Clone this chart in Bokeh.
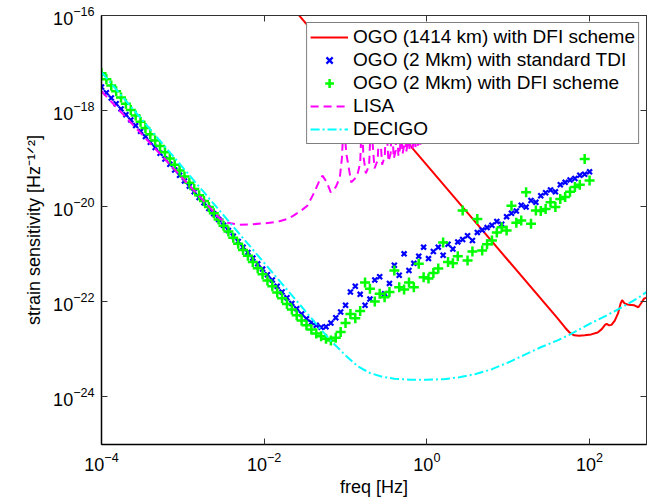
from bokeh.plotting import figure
from bokeh.models import LogAxis, FixedTicker, Legend, LegendItem, Range1d, LogTickFormatter
from bokeh.embed import file_html
from bokeh.resources import INLINE

FONT = "Liberation Sans"

# ---------------- data (log10 values) ----------------
# OGO (1414 km) with DFI scheme
ogo1414_logf = [-1.70, -1.00, 0.00, 1.00, 1.60, 1.70, 1.76, 1.81, 1.87, 1.94, 2.02, 2.10, 2.15,
                2.19, 2.21, 2.24, 2.27, 2.31, 2.35, 2.38, 2.40, 2.43, 2.48, 2.55, 2.60, 2.64,
                2.67, 2.70]
ogo1414_logh = [-15.74, -17.14, -19.14, -21.14, -22.34, -22.55, -22.66, -22.71, -22.72, -22.71,
                -22.69, -22.65, -22.58, -22.49, -22.47, -22.50, -22.49, -22.40, -22.25, -22.05,
                -21.97, -22.04, -22.07, -22.08, -22.12, -22.02, -21.94, -21.92]

# common frequency grid of the 2 Mkm series (log10 Hz)
ogo2_logf = [-4.00, -3.94, -3.88, -3.82, -3.76, -3.70, -3.64, -3.58, -3.52, -3.46,
             -3.40, -3.34, -3.28, -3.22, -3.16, -3.10, -3.04, -2.98, -2.92, -2.86,
             -2.80, -2.74, -2.68, -2.62, -2.56, -2.50, -2.44, -2.38, -2.32, -2.26,
             -2.20, -2.14, -2.08, -2.02, -1.96, -1.90, -1.84, -1.78, -1.72, -1.66,
             -1.60, -1.54, -1.48, -1.42, -1.36, -1.30, -1.24, -1.18, -1.12, -1.06,
             -1.00, -0.94, -0.88, -0.82, -0.76, -0.70, -0.64, -0.58, -0.52, -0.46,
             -0.40, -0.34, -0.28, -0.22, -0.16, -0.10, -0.04, 0.02, 0.08, 0.14,
             0.20, 0.26, 0.32, 0.38, 0.44, 0.50, 0.56, 0.62, 0.68, 0.74,
             0.80, 0.86, 0.92, 0.98, 1.04, 1.10, 1.16, 1.22, 1.28, 1.34,
             1.40, 1.46, 1.52, 1.58, 1.64, 1.70, 1.76, 1.82, 1.88, 1.94,
             2.00]

# OGO (2 Mkm) with standard TDI
ogo2_tdi_logh = [-17.50, -17.62, -17.73, -17.85, -17.96, -18.08, -18.19, -18.31, -18.43, -18.54,
                 -18.66, -18.77, -18.89, -19.01, -19.12, -19.24, -19.35, -19.47, -19.58, -19.70,
                 -19.82, -19.93, -20.05, -20.16, -20.28, -20.40, -20.51, -20.63, -20.74, -20.86,
                 -20.97, -21.09, -21.21, -21.32, -21.44, -21.55, -21.68, -21.80, -21.92, -22.04,
                 -22.15, -22.26, -22.36, -22.44, -22.50, -22.54, -22.53, -22.45, -22.34, -22.22,
                 -22.08, -21.80, -21.68, -21.85, -22.08, -21.95, -21.55, -21.48, -21.84, -21.62,
                 -21.24, -21.45, -21.00, -21.35, -21.20, -21.05, -20.86, -21.10, -20.95, -20.86,
                 -21.03, -20.80, -20.90, -20.75, -20.70, -20.62, -20.72, -20.55, -20.50, -20.45,
                 -20.40, -20.32, -20.38, -20.22, -20.15, -20.10, -19.98, -20.02, -19.88, -19.92,
                 -19.78, -19.72, -19.66, -19.70, -19.55, -19.50, -19.45, -19.42, -19.35, -19.33,
                 -19.28]

# OGO (2 Mkm) with DFI scheme
ogo2_dfi_logh = [-17.21, -17.34, -17.47, -17.59, -17.72, -17.85, -17.98, -18.10, -18.23, -18.36,
                 -18.49, -18.62, -18.74, -18.87, -19.00, -19.13, -19.25, -19.38, -19.51, -19.64,
                 -19.77, -19.89, -20.02, -20.15, -20.28, -20.41, -20.53, -20.66, -20.79, -20.92,
                 -21.04, -21.17, -21.30, -21.43, -21.56, -21.68, -21.81, -21.93, -22.05, -22.17,
                 -22.29, -22.40, -22.50, -22.59, -22.67, -22.73, -22.78, -22.82, -22.76, -22.64,
                 -22.45, -22.26, -22.35, -22.20, -21.60, -21.73, -22.00, -21.84, -21.91, -21.80,
                 -21.35, -21.70, -21.75, -21.60, -21.70, -21.21, -21.49, -21.52, -21.40, -21.31,
                 -20.76, -21.17, -21.20, -21.05, -20.09, -21.14, -20.95, -20.27, -20.93, -20.80,
                 -20.72, -20.55, -20.44, -20.51, -19.99, -20.35, -20.30, -19.71, -20.37, -20.09,
                 -20.10, -20.06, -19.92, -20.02, -19.85, -19.81, -19.70, -19.60, -19.55, -19.01,
                 -19.46]

# LISA
lisa_logf = [-4.00, -3.50, -3.00, -2.70, -2.55, -2.45, -2.30, -2.15, -2.00, -1.84, -1.72,
             -1.64, -1.55, -1.47, -1.39, -1.33, -1.284, -1.23, -1.182, -1.12, -1.07, -1.045,
             -1.022, -0.99, -0.93, -0.86, -0.82, -0.80, -0.78, -0.75, -0.71, -0.688,
             -0.644, -0.604, -0.585, -0.550, -0.517, -0.502, -0.472, -0.445, -0.432,
             -0.407, -0.383, -0.372, -0.350, -0.329, -0.319, -0.299, -0.281, -0.272,
             -0.254, -0.237, -0.229, -0.213, -0.198, -0.190, -0.176, -0.162, -0.155,
             -0.141, -0.128, -0.122, -0.110, -0.098, -0.092, -0.080, -0.063, -0.052,
             -0.036, -0.026, -0.011, 0.000]
lisa_logh = [-17.59, -18.50, -19.42, -19.97, -20.25, -20.35, -20.39, -20.38, -20.36, -20.33, -20.27,
             -20.20, -20.10, -19.99, -19.73, -19.50, -19.36, -19.50, -19.71, -19.60, -19.40, -19.00,
             -18.20, -18.90, -19.50, -19.38, -19.10, -18.20, -18.95, -19.31, -19.15, -18.20,
             -19.21, -19.03, -18.20, -19.13, -18.95, -18.20, -19.06, -18.89, -18.20,
             -19.00, -18.83, -18.20, -18.95, -18.78, -18.20, -18.90, -18.74, -18.20,
             -18.86, -18.70, -18.20, -18.83, -18.66, -18.20, -18.79, -18.63, -18.20,
             -18.76, -18.60, -18.20, -18.73, -18.58, -18.20, -18.71, -18.20, -18.68,
             -18.20, -18.66, -18.20, -18.60]

# DECIGO
decigo_logf = [-4.0, -3.0, -2.0, -1.2, -1.0, -0.85, -0.7, -0.55, -0.4, -0.2, 0.0, 0.2, 0.4,
               0.6, 0.8, 1.0, 1.2, 1.4, 1.6, 1.75, 2.0, 2.2, 2.4, 2.6, 2.7]
decigo_logh = [-17.19, -19.19, -21.19, -22.79, -23.13, -23.36, -23.50, -23.58, -23.62, -23.64,
               -23.64, -23.63, -23.59, -23.52, -23.42, -23.28, -23.12, -22.96, -22.82, -22.70,
               -22.47, -22.30, -22.12, -21.92, -21.80]

x_ticks = [1e-4, 1e-2, 1e0, 1e2]
y_ticks = [1e-24, 1e-22, 1e-20, 1e-18, 1e-16]
x_limits = (1e-4, 10 ** 2.7)
y_limits = (1e-25, 1e-16)


def pw(v):
    return [10.0 ** e for e in v]


# ---------------- figure ----------------
p = figure(frame_width=545, frame_height=429,
           x_axis_type="log", y_axis_type="log",
           x_range=Range1d(*x_limits), y_range=Range1d(*y_limits),
           output_backend="svg", toolbar_location=None,
           min_border_left=101, min_border_right=8, min_border_top=15, min_border_bottom=55,
           background_fill_color="white", border_fill_color="white")
p.outline_line_color = "black"
p.outline_line_width = 1
p.xgrid.visible = False
p.ygrid.visible = False

r_red = p.line(pw(ogo1414_logf), pw(ogo1414_logh), line_color="#ff0000", line_width=2)
r_blue = p.scatter(pw(ogo2_logf), pw(ogo2_tdi_logh), marker="x", size=7,
                   line_color="#0000ff", line_width=2.2)
r_green = p.scatter(pw(ogo2_logf), pw(ogo2_dfi_logh), marker="cross", size=10,
                    line_color="#00ff00", line_width=2.5)
r_lisa = p.line(pw(lisa_logf), pw(lisa_logh), line_color="#ff00ff", line_width=2,
                line_dash="8 5")
r_decigo = p.line(pw(decigo_logf), pw(decigo_logh), line_color="#00ffff", line_width=2,
                  line_dash="9 3 2 3")

# box axes (ticks on all four sides)
p.add_layout(LogAxis(), "above")
p.add_layout(LogAxis(), "right")

for ax in p.xaxis:
    ax.ticker = FixedTicker(ticks=x_ticks, minor_ticks=[])
for ax in p.yaxis:
    ax.ticker = FixedTicker(ticks=y_ticks, minor_ticks=[])

for ax in p.axis:
    ax.formatter = LogTickFormatter()
    ax.major_tick_in = 6
    ax.major_tick_out = 0
    ax.minor_tick_line_color = None
    ax.major_tick_line_color = "#333333"
    ax.axis_line_color = "black"
    ax.axis_line_width = 1.5
    ax.major_label_text_font = FONT
    ax.major_label_text_font_size = "18px"
    ax.major_label_text_color = "black"
    ax.axis_label_text_font = FONT
    ax.axis_label_text_font_size = "18px"
    ax.axis_label_text_font_style = "normal"
    ax.axis_label_text_color = "black"

p.below[0].axis_label = "freq [Hz]"
p.below[0].major_label_standoff = 7
p.below[0].axis_label_standoff = 3
p.left[0].axis_label = "strain sensitivity [Hz\u207b\u00b9\u141f\u00b2]"
p.left[0].major_label_standoff = 7
p.left[0].axis_label_standoff = 6

for ax in (p.above[0], p.right[0]):
    ax.major_label_text_font_size = "1px"
    ax.major_label_text_alpha = 0.0
    ax.major_label_standoff = 0
    ax.axis_line_width = 1
    ax.axis_line_color = "#333333"

legend = Legend(items=[
    LegendItem(label="OGO (1414 km) with DFI scheme", renderers=[r_red]),
    LegendItem(label="OGO (2 Mkm) with standard TDI", renderers=[r_blue]),
    LegendItem(label="OGO (2 Mkm) with DFI scheme", renderers=[r_green]),
    LegendItem(label="LISA", renderers=[r_lisa]),
    LegendItem(label="DECIGO", renderers=[r_decigo]),
], location="top_right", margin=7, padding=3, spacing=1,
    label_text_font=FONT, label_text_font_size="19px", label_text_color="black",
    glyph_width=38, glyph_height=22, label_height=22, label_standoff=5,
    border_line_color="black", border_line_width=1.5,
    background_fill_color="white", background_fill_alpha=1.0)
p.add_layout(legend)

open("out.html", "w").write(file_html(p, INLINE))
